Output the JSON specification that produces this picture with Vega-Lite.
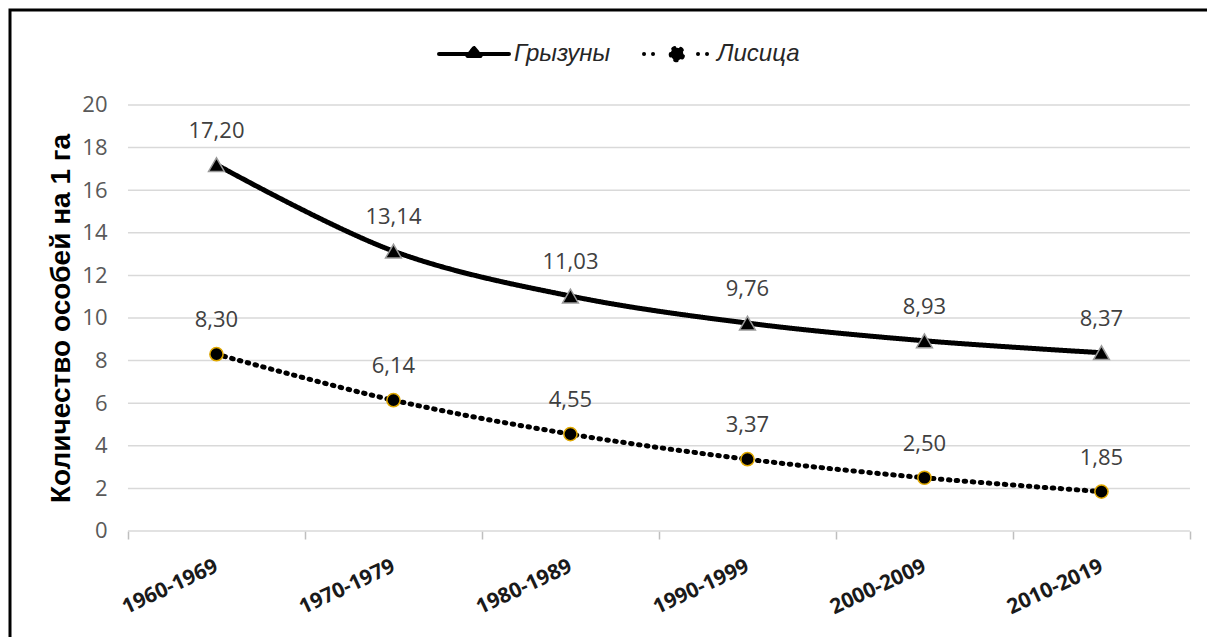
{
  "$schema": "https://vega.github.io/schema/vega-lite/v6.json",
  "width": 1210,
  "height": 640,
  "autosize": {"type": "none"},
  "padding": {"left": 10, "top": 10, "right": 0, "bottom": 0},
  "background": "white",
  "config": {
    "view": {"stroke": "black", "strokeWidth": 3},
    "locale": {"number": {"decimal": ",", "thousands": " ", "grouping": [3], "currency": ["", ""]}},
    "font": "Open Sans"
  },
  "data": {
    "values": [
      {"period": "1960-1969", "series": "Грызуны", "value": 17.20},
      {"period": "1970-1979", "series": "Грызуны", "value": 13.14},
      {"period": "1980-1989", "series": "Грызуны", "value": 11.03},
      {"period": "1990-1999", "series": "Грызуны", "value": 9.76},
      {"period": "2000-2009", "series": "Грызуны", "value": 8.93},
      {"period": "2010-2019", "series": "Грызуны", "value": 8.37},
      {"period": "1960-1969", "series": "Лисица", "value": 8.30},
      {"period": "1970-1979", "series": "Лисица", "value": 6.14},
      {"period": "1980-1989", "series": "Лисица", "value": 4.55},
      {"period": "1990-1999", "series": "Лисица", "value": 3.37},
      {"period": "2000-2009", "series": "Лисица", "value": 2.50},
      {"period": "2010-2019", "series": "Лисица", "value": 1.85}
    ]
  },
  "layer": [
    {
      "data": {"values": [{"g": 0}, {"g": 2}, {"g": 4}, {"g": 6}, {"g": 8}, {"g": 10}, {"g": 12}, {"g": 14}, {"g": 16}, {"g": 18}, {"g": 20}]},
      "mark": {"type": "rule", "color": "#d9d9d9", "strokeWidth": 1.5},
      "encoding": {
        "y": {
          "field": "g", "type": "quantitative",
          "scale": {"domain": [-5.587, 24.46], "nice": false, "zero": false},
          "axis": {
            "values": [0, 2, 4, 6, 8, 10, 12, 14, 16, 18, 20],
            "offset": -97, "ticks": false, "domain": false, "grid": false,
            "labelPadding": 0, "labelFont": "Open Sans", "labelFontSize": 22, "labelColor": "#595959",
            "title": "Количество особей на 1 га", "titleFont": "Liberation Sans", "titleFontSize": 28,
            "titleFontWeight": "bold", "titleColor": "black", "titlePadding": 6, "titleY": 308
          }
        },
        "x": {"datum": "1960-1969", "type": "nominal", "bandPosition": 0},
        "x2": {"datum": "2010-2019", "bandPosition": 1}
      }
    },
    {
      "mark": {"type": "line", "strokeWidth": 5, "interpolate": "catmull-rom", "color": "black", "strokeCap": "round"},
      "encoding": {
        "x": {
          "field": "period", "type": "nominal",
          "scale": {"type": "band", "domain": ["1960-1969", "1970-1979", "1980-1989", "1990-1999", "2000-2009", "2010-2019"], "paddingInner": 0, "paddingOuter": 0.4181, "align": 0.797},
          "axis": {
            "orient": "bottom", "offset": -119, "domain": false, "ticks": true, "tickBand": "extent",
            "tickColor": "#bfbfbf", "tickSize": 8, "tickWidth": 1.5, "grid": false,
            "labelAngle": -25, "labelAlign": "right", "labelBaseline": "middle",
            "labelFont": "Open Sans", "labelFontSize": 21, "labelFontWeight": "bold", "labelColor": "#1a1a1a",
            "labelPadding": 26, "labelOverlap": false, "title": null
          }
        },
        "y": {"field": "value", "type": "quantitative"},
        "strokeDash": {
          "field": "series", "type": "nominal",
          "scale": {"domain": ["Грызуны", "Лисица"], "range": [[1, 0], [1.5, 6.5]]},
          "legend": {
            "orient": "none", "legendX": 452, "legendY": 32, "direction": "horizontal", "title": null,
            "symbolSize": 100, "symbolType": "circle", "labelOffset": 28, "columnPadding": 31,
            "symbolFillColor": "black", "symbolStrokeColor": "black", "symbolStrokeWidth": 4,
            "labelFont": "Liberation Sans", "labelFontStyle": "italic", "labelFontSize": 24, "labelColor": "#262626",
            "encode": {
              "symbols": {
                "update": {
                  "shape": {"signal": "datum.value === 'Грызуны' ? 'M-7,0L7,0M-1.3,0.4L1.3,0.4L0,-1.2Z' : 'M-6.6,0L-6.59,0M-4.8,0L-4.79,0M4.2,0L4.21,0M6,0L6.01,0M-1.26,0A1.26,1.26,0,1,0,1.26,0A1.26,1.26,0,1,0,-1.26,0Z'"},
                  "strokeDash": {"value": [1, 0]},
                  "fill": {"value": "black"},
                  "fillOpacity": {"value": 1},
                  "stroke": {"value": "black"},
                  "strokeWidth": {"value": 4},
                  "strokeCap": {"value": "round"},
                  "strokeJoin": {"value": "round"},
                  "opacity": {"value": 1}
                }
              }
            }
          }
        }
      }
    },
    {
      "transform": [{"filter": "datum.series === 'Грызуны'"}],
      "mark": {"type": "point", "shape": "triangle-up", "size": 250, "filled": true, "fill": "black", "fillOpacity": 1, "stroke": "#9a9a9a", "strokeWidth": 1.5, "opacity": 1},
      "encoding": {
        "x": {"field": "period", "type": "nominal"},
        "y": {"field": "value", "type": "quantitative"}
      }
    },
    {
      "transform": [{"filter": "datum.series === 'Лисица'"}],
      "mark": {"type": "point", "shape": "circle", "size": 175, "filled": true, "fill": "black", "fillOpacity": 1, "stroke": "#e0a800", "strokeWidth": 1.5, "opacity": 1},
      "encoding": {
        "x": {"field": "period", "type": "nominal"},
        "y": {"field": "value", "type": "quantitative"}
      }
    },
    {
      "mark": {"type": "text", "dy": -34, "fontSize": 22, "font": "Open Sans", "color": "#404040"},
      "encoding": {
        "x": {"field": "period", "type": "nominal"},
        "y": {"field": "value", "type": "quantitative"},
        "text": {"field": "value", "type": "quantitative", "format": ".2f"}
      }
    }
  ]
}
